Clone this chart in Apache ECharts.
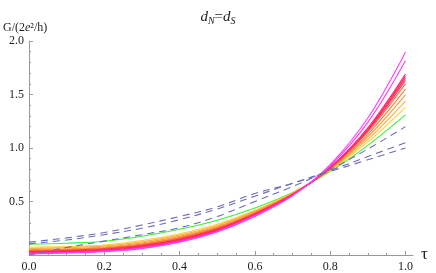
<!DOCTYPE html>
<html><head><meta charset="utf-8">
<script src="https://cdn.jsdelivr.net/npm/echarts@6/dist/echarts.min.js"></script>
<style>html,body{margin:0;padding:0;background:#fff}#c{width:436px;height:273px}</style>
</head><body><div id="c"></div>
<script>
const tau = [0, 0.1, 0.2, 0.3, 0.4, 0.5, 0.6, 0.7, 0.8, 0.9, 1.0];
const xMajorTicks = [0, 0.2, 0.4, 0.6, 0.8, 1.0];
const xMinorTicks = [0.05,0.1,0.15,0.25,0.3,0.35,0.45,0.5,0.55,0.65,0.7,0.75,0.85,0.9,0.95];
const yTicks = [0.5, 1.0, 1.5, 2.0];

const green      = [0.100,0.110,0.128,0.175,0.240,0.325,0.440,0.585,0.780,1.025,1.310];
const yellow     = [0.072,0.078,0.094,0.135,0.198,0.287,0.418,0.580,0.788,1.055,1.380];
const lightOrange= [0.060,0.069,0.085,0.123,0.186,0.276,0.410,0.577,0.795,1.080,1.439];
const orange     = [0.050,0.059,0.075,0.112,0.174,0.265,0.402,0.574,0.801,1.105,1.497];
const darkOrange = [0.043,0.052,0.068,0.103,0.164,0.256,0.395,0.571,0.806,1.128,1.550];
const redOrange  = [0.037,0.046,0.061,0.095,0.156,0.248,0.389,0.568,0.811,1.150,1.600];
const red        = [0.033,0.041,0.056,0.089,0.150,0.243,0.385,0.566,0.814,1.163,1.632];
const crimson    = [0.028,0.036,0.051,0.083,0.144,0.237,0.382,0.564,0.816,1.173,1.655];
const deepPink   = [0.024,0.032,0.046,0.077,0.138,0.232,0.378,0.562,0.818,1.181,1.673];
const pink       = [0.019,0.027,0.042,0.072,0.132,0.226,0.375,0.560,0.820,1.189,1.690];
const magenta2   = [0.015,0.022,0.037,0.066,0.125,0.220,0.365,0.556,0.835,1.240,1.815];
const magenta1   = [0.010,0.018,0.032,0.060,0.120,0.215,0.360,0.553,0.845,1.280,1.895];

const dashA = [0.120,0.160,0.210,0.280,0.360,0.450,0.575,0.670,0.780,0.890,1.000];
const dashB = [0.105,0.140,0.190,0.250,0.330,0.430,0.550,0.670,0.790,0.920,1.050];
const dashC = [0.000,0.070,0.130,0.190,0.255,0.360,0.500,0.640,0.800,0.990,1.200];

const solid = [
  [green,'#3cf03c'],[yellow,'#ffd030'],[lightOrange,'#ffb040'],[orange,'#ff9a38'],
  [darkOrange,'#ff7c36'],[redOrange,'#ff5a38'],[red,'#ff3a40'],[crimson,'#ff2a58'],
  [deepPink,'#ff2a70'],[pink,'#ff2a88'],[magenta2,'#ff3aea'],[magenta1,'#ff3cff']
];
const dashed = [dashA, dashB, dashC];

const zip = a => tau.map((t,i)=>[t,a[i]]);
const series = [];
solid.forEach(([d,c])=>series.push({type:'line',data:zip(d),smooth:0.35,symbol:'none',
  lineStyle:{color:c,width:1.1},xAxisIndex:0}));
dashed.forEach(d=>series.push({type:'line',data:zip(d),smooth:0.35,symbol:'none',
  lineStyle:{color:'#6c6cb8',width:1.1,type:[7,5]},xAxisIndex:0}));

const serif = 'Liberation Serif';
const chart = echarts.init(document.getElementById('c'));
chart.setOption({
  animation:false,
  textStyle:{fontFamily:serif},
  title:{text:'{d|d}{s|N}{e|=}{d|d}{s|S}',left:'center',top:3,
    textStyle:{fontWeight:'normal',fontFamily:serif,rich:{
      d:{fontFamily:serif,fontStyle:'italic',fontWeight:'normal',fontSize:15,color:'#222'},
      e:{fontFamily:serif,fontWeight:'normal',fontSize:15,color:'#222'},
      s:{fontFamily:serif,fontStyle:'italic',fontWeight:'normal',fontSize:10,color:'#222',padding:[8,0,0,0]}
    }}},
  grid:{left:26,right:23,top:41,bottom:17},
  xAxis:[{type:'value',min:0,max:1.02,
    axisLine:{lineStyle:{color:'#999',width:1}},
    axisTick:{inside:true,length:4,lineStyle:{color:'#999'},customValues:xMajorTicks},
    axisLabel:{customValues:xMajorTicks,formatter:v=>v.toFixed(1),fontFamily:serif,fontSize:12,color:'#222',margin:6},
    splitLine:{show:false},
    name:'τ',nameLocation:'end',nameGap:8,nameTextStyle:{fontFamily:serif,fontSize:17,color:'#222',verticalAlign:'middle'}},
   {type:'value',min:0,max:1.02,position:'bottom',
    axisLine:{show:false},
    axisTick:{inside:true,length:2,lineStyle:{color:'#999'},customValues:xMinorTicks},
    axisLabel:{show:false},splitLine:{show:false}}],
  yAxis:[{type:'value',min:0,max:2,interval:0.5,
    axisLine:{show:true,lineStyle:{color:'#999',width:1}},
    axisTick:{show:true,inside:true,length:4,lineStyle:{color:'#999'}},
    minorTick:{show:true,splitNumber:5,length:2,lineStyle:{color:'#999'}},
    axisLabel:{showMinLabel:false,formatter:v=>v.toFixed(1),fontFamily:serif,fontSize:12,color:'#222',margin:5},
    splitLine:{show:false},
    name:'{a|G/(2}{i|e}{a|²/h)}',nameLocation:'end',nameGap:7,
    nameTextStyle:{align:'left',padding:[0,0,0,-26],fontFamily:serif,rich:{
      a:{fontFamily:serif,fontSize:12,color:'#222'},
      i:{fontFamily:serif,fontStyle:'italic',fontSize:12,color:'#222'}}}}],
  series:series
});
</script></body></html>
